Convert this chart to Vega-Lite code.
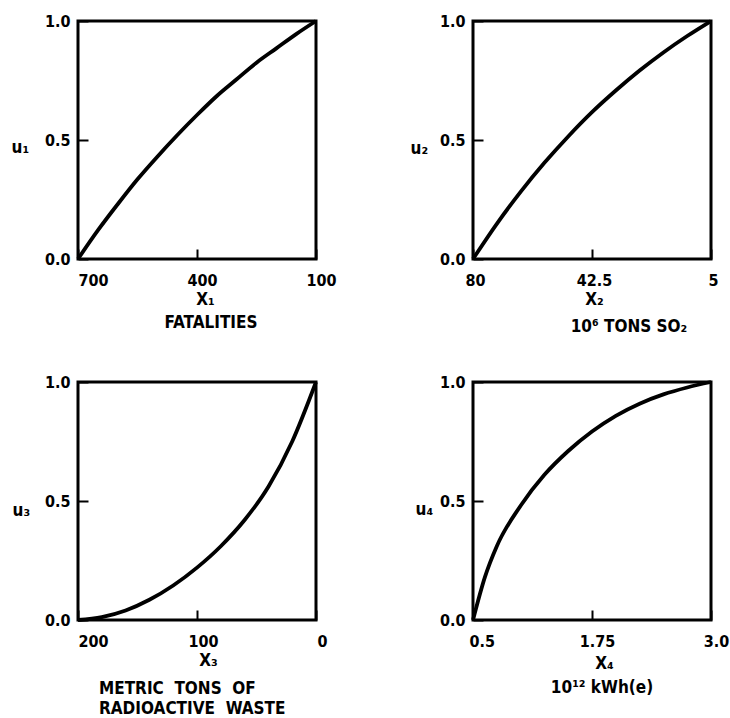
{
  "$schema": "https://vega.github.io/schema/vega-lite/v6.json",
  "background": "white",
  "autosize": {"type": "pad"},
  "padding": {"left": 9, "top": 11, "right": 0, "bottom": 0},
  "columns": 2,
  "spacing": {"row": 123, "column": 157},
  "bounds": "flush",
  "datasets": {
    "p1": [{"x": 700, "u": 0}, {"x": 650, "u": 0.12}, {"x": 600, "u": 0.23}, {"x": 550, "u": 0.335}, {"x": 500, "u": 0.43}, {"x": 450, "u": 0.52}, {"x": 400, "u": 0.605}, {"x": 350, "u": 0.685}, {"x": 300, "u": 0.755}, {"x": 250, "u": 0.825}, {"x": 200, "u": 0.885}, {"x": 150, "u": 0.945}, {"x": 100, "u": 1.0}],
    "p2": [{"x": 80, "u": 0}, {"x": 72.5, "u": 0.148}, {"x": 65, "u": 0.282}, {"x": 57.5, "u": 0.404}, {"x": 50, "u": 0.515}, {"x": 42.5, "u": 0.617}, {"x": 35, "u": 0.708}, {"x": 27.5, "u": 0.792}, {"x": 20, "u": 0.868}, {"x": 12.5, "u": 0.937}, {"x": 5, "u": 1.0}],
    "p3": [{"x": 200, "u": 0}, {"x": 180, "u": 0.012}, {"x": 160, "u": 0.04}, {"x": 140, "u": 0.085}, {"x": 120, "u": 0.145}, {"x": 100, "u": 0.22}, {"x": 80, "u": 0.31}, {"x": 60, "u": 0.42}, {"x": 40, "u": 0.56}, {"x": 20, "u": 0.75}, {"x": 0, "u": 1.0}],
    "p4": [{"x": 0.5, "u": 0}, {"x": 0.625, "u": 0.18}, {"x": 0.75, "u": 0.31}, {"x": 1.0, "u": 0.48}, {"x": 1.25, "u": 0.61}, {"x": 1.5, "u": 0.71}, {"x": 1.75, "u": 0.792}, {"x": 2.0, "u": 0.858}, {"x": 2.25, "u": 0.909}, {"x": 2.5, "u": 0.948}, {"x": 2.75, "u": 0.977}, {"x": 3.0, "u": 1.0}]
  },
  "config": {
    "font": "DejaVu Sans Condensed, DejaVu Sans",
    "view": {"stroke": "black", "strokeWidth": 3},
    "axis": {
      "domain": false,
      "grid": false,
      "tickColor": "black",
      "tickWidth": 2,
      "tickSize": -10,
      "labelColor": "black",
      "titleColor": "black",
      "labelFont": "DejaVu Sans Condensed, DejaVu Sans",
      "titleFont": "DejaVu Sans Condensed, DejaVu Sans",
      "labelFontSize": 16,
      "labelFontWeight": "bold",
      "titleFontSize": 17,
      "titleFontWeight": "bold"
    },
    "axisX": {"labelPadding": 23, "labelBaseline": "top", "titleBaseline": "alphabetic", "titleAlign": "center", "titleAngle": 0},
    "axisY": {"labelPadding": 18, "titleAngle": 0, "titleAlign": "left", "titleBaseline": "alphabetic"},
    "title": {"font": "DejaVu Sans Condensed, DejaVu Sans", "fontSize": 17, "fontWeight": "bold", "color": "black", "orient": "bottom", "frame": "group", "baseline": "top", "lineHeight": 20},
    "line": {"color": "black", "strokeWidth": 3.8}
  },
  "concat": [
    {
      "width": 238, "height": 238,
      "data": {"name": "p1"},
      "title": {"text": "FATALITIES", "anchor": "middle", "dx": 14, "offset": 8},
      "mark": {"type": "line", "interpolate": "monotone"},
      "encoding": {
        "x": {"field": "x", "type": "quantitative",
          "scale": {"domain": [100, 700], "reverse": true, "nice": false, "zero": false},
          "axis": {"values": [700, 400, 100], "title": "X₁", "titleX": 127, "titleY": 45,
            "labelAlign": {"condition": {"test": "datum.value == 700", "value": "left"}, "value": "center"},
            "labelOffset": {"condition": {"test": "datum.value == 700", "value": 0}, "value": 5}}},
        "y": {"field": "u", "type": "quantitative",
          "scale": {"domain": [0, 1], "nice": false},
          "axis": {"values": [0, 0.5, 1], "format": ".1f", "title": "u₁", "titleX": -67, "titleY": 131}}
      }
    },
    {
      "width": 238, "height": 238,
      "data": {"name": "p2"},
      "title": {"text": "10⁶ TONS SO₂", "anchor": "middle", "dx": 37, "offset": 12},
      "mark": {"type": "line", "interpolate": "monotone"},
      "encoding": {
        "x": {"field": "x", "type": "quantitative",
          "scale": {"domain": [5, 80], "reverse": true, "nice": false, "zero": false},
          "axis": {"values": [80, 42.5, 5], "labelExpr": "toString(datum.value)", "title": "X₂", "titleX": 121, "titleY": 45, "labelAlign": "center", "labelOffset": 2}},
        "y": {"field": "u", "type": "quantitative",
          "scale": {"domain": [0, 1], "nice": false},
          "axis": {"values": [0, 0.5, 1], "format": ".1f", "title": "u₂", "titleX": -63, "titleY": 132}}
      }
    },
    {
      "width": 238, "height": 238,
      "data": {"name": "p3"},
      "title": {"text": ["METRIC \u00a0TONS \u00a0OF", "RADIOACTIVE \u00a0WASTE"], "anchor": "start", "dx": 21, "offset": 13},
      "mark": {"type": "line", "interpolate": "monotone"},
      "encoding": {
        "x": {"field": "x", "type": "quantitative",
          "scale": {"domain": [0, 200], "reverse": true, "nice": false, "zero": false},
          "axis": {"values": [200, 100, 0], "title": "X₃", "titleX": 130, "titleY": 45,
            "labelAlign": {"condition": {"test": "datum.value == 200", "value": "left"}, "value": "center"},
            "labelOffset": {"condition": {"test": "datum.value == 200", "value": 0}, "value": 6}}},
        "y": {"field": "u", "type": "quantitative",
          "scale": {"domain": [0, 1], "nice": false},
          "axis": {"values": [0, 0.5, 1], "format": ".1f", "title": "u₃", "titleX": -66, "titleY": 133}}
      }
    },
    {
      "width": 238, "height": 238,
      "data": {"name": "p4"},
      "title": {"text": "10¹² kWh(e)", "anchor": "middle", "dx": 10, "offset": 9},
      "mark": {"type": "line", "interpolate": "monotone"},
      "encoding": {
        "x": {"field": "x", "type": "quantitative",
          "scale": {"domain": [0.5, 3.0], "nice": false, "zero": false},
          "axis": {"values": [0.5, 1.75, 3.0], "labelExpr": "datum.value == 3 ? '3.0' : toString(datum.value)", "title": "X₄", "titleX": 131, "titleY": 48,
            "labelAlign": {"condition": {"test": "datum.value == 0.5", "value": "left"}, "value": "center"},
            "labelOffset": {"condition": {"test": "datum.value == 0.5", "value": -4}, "value": 5}}},
        "y": {"field": "u", "type": "quantitative",
          "scale": {"domain": [0, 1], "nice": false},
          "axis": {"values": [0, 0.5, 1], "format": ".1f", "title": "u₄", "titleX": -58, "titleY": 132}}
      }
    }
  ]
}
